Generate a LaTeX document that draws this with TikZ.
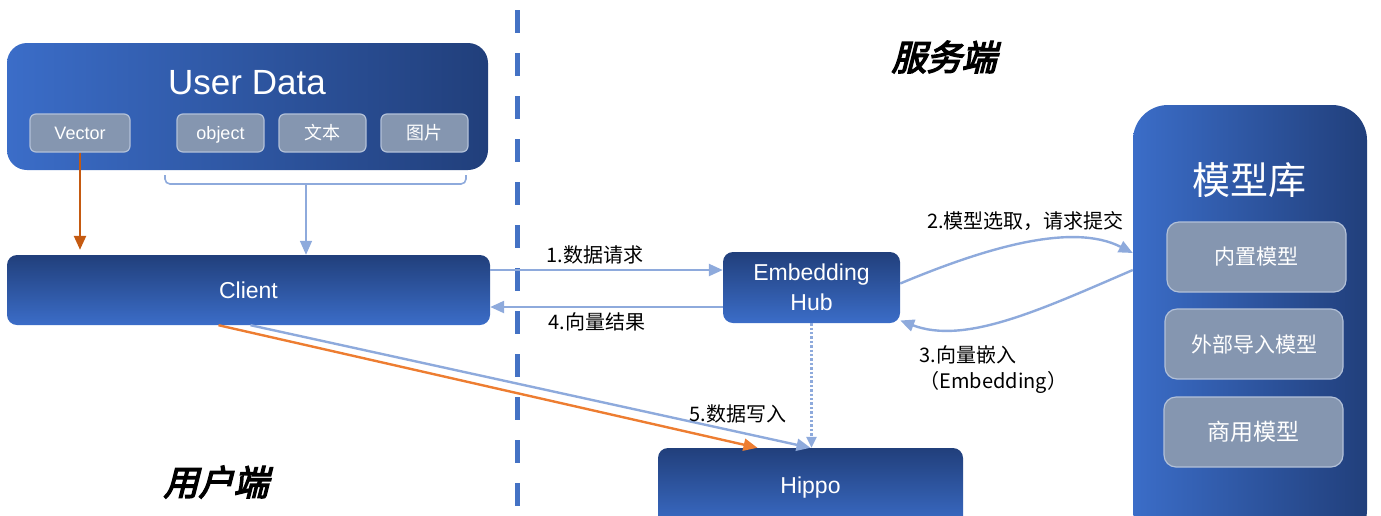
\documentclass[tikz,border=0pt]{standalone}
\usepackage{fontspec}
\setmainfont{Liberation Sans}
\newfontfamily\cjk{Noto Sans CJK SC}
\newfontfamily\cjkslant[FakeSlant=0.25,FakeBold=4]{Noto Sans CJK SC}
\usetikzlibrary{arrows.meta}
\definecolor{udark}{HTML}{213F7B}
\definecolor{ulight}{HTML}{3B6DC8}
\definecolor{tagfill}{HTML}{8596B0}
\definecolor{tagline}{HTML}{B3C1D8}
\definecolor{flowblue}{HTML}{8EAADC}
\definecolor{vecbrown}{HTML}{C55A11}
\definecolor{rawarrow}{HTML}{ED7D31}
\definecolor{splitblue}{HTML}{4472C4}

\begin{document}
\begin{tikzpicture}[x=1pt,y=-1pt,
    hbox/.style={rectangle, inner sep=0pt, text=white, left color=ulight, right color=udark},
    vbox/.style={rectangle, rounded corners=10pt, inner sep=0pt, text=white,
        top color=udark, bottom color=ulight, font=\fontsize{23}{30}\selectfont},
    tag/.style={rectangle, rounded corners=6pt, inner sep=0pt, fill=tagfill, draw=tagline,
        line width=1.2pt, text=white, minimum height=38pt},
    flow/.style={draw=flowblue, line width=2.4pt, -{Triangle[length=14pt,width=12pt]}},
    lbl/.style={font=\cjk\fontsize{20}{26}\selectfont, text=black},
    side/.style={font=\cjkslant\fontsize{35}{40}\selectfont}]
    \useasboundingbox (0,0) rectangle (1381,515);
    \clip (0,0) rectangle (1381,515);

    % client side
    \node[hbox, rounded corners=20pt, minimum width=481pt, minimum height=127pt] (userdata) at (247.5,106.5) {};
    \node[text=white, font=\fontsize{35}{40}\selectfont] (udtitle) at (247,83) {User Data};
    \node[tag, minimum width=100pt, font=\fontsize{18}{20}\selectfont] (vector) at (80,133) {Vector};
    \node[tag, minimum width=87pt, text depth=0pt, font=\fontsize{18}{20}\selectfont] (object) at (220.5,133) {object};
    \node[tag, minimum width=87pt, font=\cjk\fontsize{18}{20}\selectfont] (text) at (322.5,133) {文本};
    \node[tag, minimum width=87pt, font=\cjk\fontsize{18}{20}\selectfont] (image) at (424.5,133) {图片};
    \node[vbox, minimum width=483pt, minimum height=70pt] (client) at (248.5,290) {Client};

    \coordinate (bracel) at (165,175);
    \coordinate (bracer) at (466,175);
    \coordinate (brace) at (306,184);
    \draw[draw=flowblue, line width=1.6pt, rounded corners=5pt] (bracel) |- (brace) -| (bracer);
    \draw[flow, line width=1.6pt] (brace) -- (brace |- client.north);
    \draw[vecbrown, line width=2.4pt, -{Triangle[length=14pt,width=12pt]}] (vector.south) -- ([yshift=5pt]vector.south |- client.north);

    % divider
    \coordinate (splittop) at (517,10);
    \coordinate (splitbot) at (517,515);
    \draw[splitblue, line width=5pt, dash pattern=on 23pt off 20pt] (splittop) -- (splitbot);

    \node[side] (server) at (944,57) {服务端};
    \node[side] (user) at (216,482) {用户端};

    % server side
    \node[vbox, minimum width=177pt, minimum height=71pt, align=center] (hub) at (811.5,287.5) {Embedding\\Hub};
    \node[vbox, minimum width=305pt, minimum height=80pt] (hippo) at (810.5,488) {Hippo};
    \node[hbox, rounded corners=35pt, minimum width=234pt, minimum height=440pt] (modelhub) at (1250,325) {};
    \node[text=white, font=\cjk\fontsize{38}{42}\selectfont] (mhtitle) at (1249,180) {模型库};
    \node[tag, rounded corners=12pt, minimum width=179pt, minimum height=70pt, font=\cjk\fontsize{21}{24}\selectfont] (builtin) at (1256.5,257) {内置模型};
    \node[tag, rounded corners=12pt, minimum width=178pt, minimum height=70pt, font=\cjk\fontsize{21}{24}\selectfont] (imported) at (1254,344) {外部导入模型};
    \node[tag, rounded corners=12pt, minimum width=179pt, minimum height=70pt, font=\cjk\fontsize{23}{26}\selectfont] (commercial) at (1253.5,432) {商用模型};

    % flows
    \draw[flow] ([yshift=20pt]client.east) -- ([yshift=20pt]client.east -| hub.west)
        node[lbl, pos=0.45, above=1pt] {1.数据请求};
    \draw[flow] ([yshift=-17pt]client.east -| hub.west) -- ([yshift=-17pt]client.east)
        node[lbl, pos=0.54, below=1pt] {4.向量结果};
    \draw[flow] ([yshift=4pt]hub.east) .. controls (985,248) and (1072,222) .. ([yshift=72pt]modelhub.west)
        node[lbl, midway, above=8pt] {2.模型选取，请求提交};
    \draw[flow] ([yshift=55pt]modelhub.west) .. controls (1040,310) and (965,345) .. ([yshift=-33pt]hub.east);
    \node[lbl, anchor=north west, align=left] (embedlbl) at (916,342) {3.向量嵌入\\（Embedding）};
    \draw[flow, dotted, -{Triangle[length=11pt,width=10pt]}] (hub.south) -- (hub.south |- hippo.north);
    \draw[rawarrow, line width=2.4pt, -{Triangle[length=14pt,width=12pt]}] ([xshift=-30pt]client.south) -- ([xshift=-53pt]hippo.north);
    \draw[flow] ([xshift=2pt]client.south) -- (hippo.north)
        node[lbl, pos=0.87, above=4pt] {5.数据写入};
\end{tikzpicture}
\end{document}
